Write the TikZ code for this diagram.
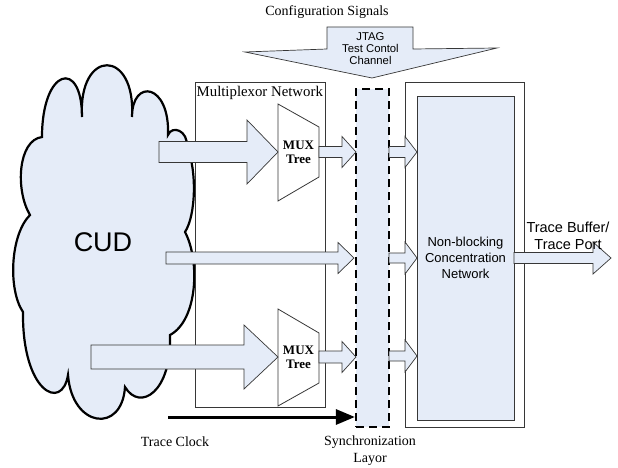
\documentclass[tikz,border=0pt]{standalone}
\usepackage{fontspec}
\setmainfont{Liberation Serif}
\newfontfamily\arial{Liberation Sans}
\usetikzlibrary{calc,arrows.meta}
\definecolor{lblue}{RGB}{229,236,248}
\definecolor{edge}{RGB}{55,55,55}
\tikzset{
  barrow/.style={draw=edge, fill=lblue, line width=0.7pt, line join=miter},
  plainbox/.style={draw=edge, line width=0.8pt},
  muxshape/.style={draw=edge, fill=white, line width=0.8pt},
  cloudline/.style={draw=black, fill=lblue, line width=2.2pt},
  syncbox/.style={draw=black, fill=lblue, line width=2.2pt, dash pattern=on 8pt off 5pt},
  serif14/.style={font=\fontsize{14}{17}\selectfont, inner sep=0pt},
  muxtext/.style={font=\fontsize{13}{14}\selectfont\bfseries, align=center, inner sep=0pt},
  sanslabel/.style={font=\arial\fontsize{13}{16}\selectfont, align=center, inner sep=0pt},
  clockarrow/.style={line width=3pt, -{Triangle[length=19pt,width=15pt]}},
}
\newcommand\blockarrow[5]{%
  \draw[barrow] let \p1=(#1), \p2=(#2) in
    (\x1,\y2+#3pt) -- (\x2-#5pt,\y2+#3pt) -- (\x2-#5pt,\y2+#4pt) -- (\x2,\y2)
    -- (\x2-#5pt,\y2-#4pt) -- (\x2-#5pt,\y2-#3pt) -- (\x1,\y2-#3pt) -- cycle;}
\begin{document}
\begin{tikzpicture}[x=1pt,y=-1pt]
\useasboundingbox (0,0) rectangle (618,468);
% cloud
\draw[cloudline] (42,137)
  .. controls (42,68) and (82,58) .. (82,117)
  .. controls (78,48) and (136,48) .. (132,117)
  .. controls (132,78) and (170,83) .. (168,135)
  .. controls (172,125) and (188,130) .. (187,147)
  .. controls (197,170) and (196,215) .. (185,232)
  .. controls (200,260) and (198,320) .. (170,335)
  .. controls (172,392) and (140,412) .. (125,387)
  .. controls (122,434) and (72,428) .. (68,375)
  .. controls (62,412) and (22,392) .. (23,312)
  .. controls (8,290) and (10,235) .. (30,215)
  .. controls (15,190) and (18,140) .. (42,137) -- cycle;
\node[font=\arial\fontsize{27}{30}\selectfont, inner sep=0pt] (cud) at (103,242) {CUD};
% multiplexor network box
\draw[plainbox] (195,82) rectangle (325,407);
\node[font=\fontsize{14.8}{17}\selectfont, inner sep=0pt, anchor=west] (mxlabel) at (196.5,93) {Multiplexor Network};
% MUX trees
\draw[muxshape] (278,104) -- (319,127) -- (319,177) -- (278,201) -- cycle;
\node[muxtext] (mux1) at (298.5,152) {MUX\\Tree};
\draw[muxshape] (278,309) -- (319,333) -- (319,383) -- (278,406) -- cycle;
\node[muxtext] (mux2) at (298.5,357) {MUX\\Tree};
% sync layer and concentration network
\node[syncbox, minimum width=33pt, minimum height=338pt, inner sep=0pt] (sync) at (372.5,258) {};
\draw[plainbox, fill=white] (405,82) rectangle (524,427);
\node[draw=edge, fill=lblue, line width=0.8pt, minimum width=97pt, minimum height=324pt, inner sep=0pt] (conc) at (465.5,258) {};
\node[sanslabel] (conclabel) at (465.5,258) {Non-blocking\\Concentration\\Network};
% coordinates
\coordinate (c1) at (159,152);
\coordinate (c2) at (166,258);
\coordinate (c3) at (91,357);
\coordinate (m1in) at (278,152);
\coordinate (m2in) at (278,357);
\coordinate (m1out) at (319,152);
\coordinate (m2out) at (319,357);
\coordinate (s1) at (356,152);
\coordinate (s2) at (354,258);
\coordinate (s3) at (356,357);
\coordinate (o1) at (389,152);
\coordinate (o2) at (389,258);
\coordinate (o3) at (389,356);
\coordinate (n1) at (417,152);
\coordinate (n2) at (417,258);
\coordinate (n3) at (417,356);
\coordinate (out) at (514,258);
\coordinate (port) at (611,258);
% block arrows
\blockarrow{c1}{m1in}{10.5}{32}{31}
\blockarrow{c2}{s2}{6}{15.5}{16}
\blockarrow{c3}{m2in}{12}{32}{34}
\blockarrow{m1out}{s1}{5.5}{15.5}{14}
\blockarrow{m2out}{s3}{6}{15.5}{14}
\blockarrow{o1}{n1}{5.5}{15.5}{12}
\blockarrow{o2}{n2}{5}{16}{12}
\blockarrow{o3}{n3}{5}{16}{12}
\blockarrow{out}{port}{5.5}{16}{18}
\node[font=\arial\fontsize{14.5}{17}\selectfont, align=center, inner sep=0pt] (tb) at (568,235.5) {Trace Buffer/\\Trace Port};
% trace clock
\coordinate (clk) at (168,417);
\draw[clockarrow] (clk) -- (clk -| sync.west);
\node[serif14] (clklabel) at (175,442) {Trace Clock};
\node[serif14, align=center] (synclabel) at (370,450.5) {Synchronization\\Layor};
% configuration callout
\draw[barrow] (327,27) -- (413,27) -- (413,49) -- (497,48) -- (372,78) -- (245,52) -- (327,49) -- cycle;
\node[font=\arial\fontsize{11.3}{12}\selectfont, align=center, inner sep=0pt] (jtag) at (370.5,49) {JTAG\\Test Contol\\Channel};
\node[serif14] (config) at (327,12) {Configuration Signals};
\end{tikzpicture}
\end{document}
